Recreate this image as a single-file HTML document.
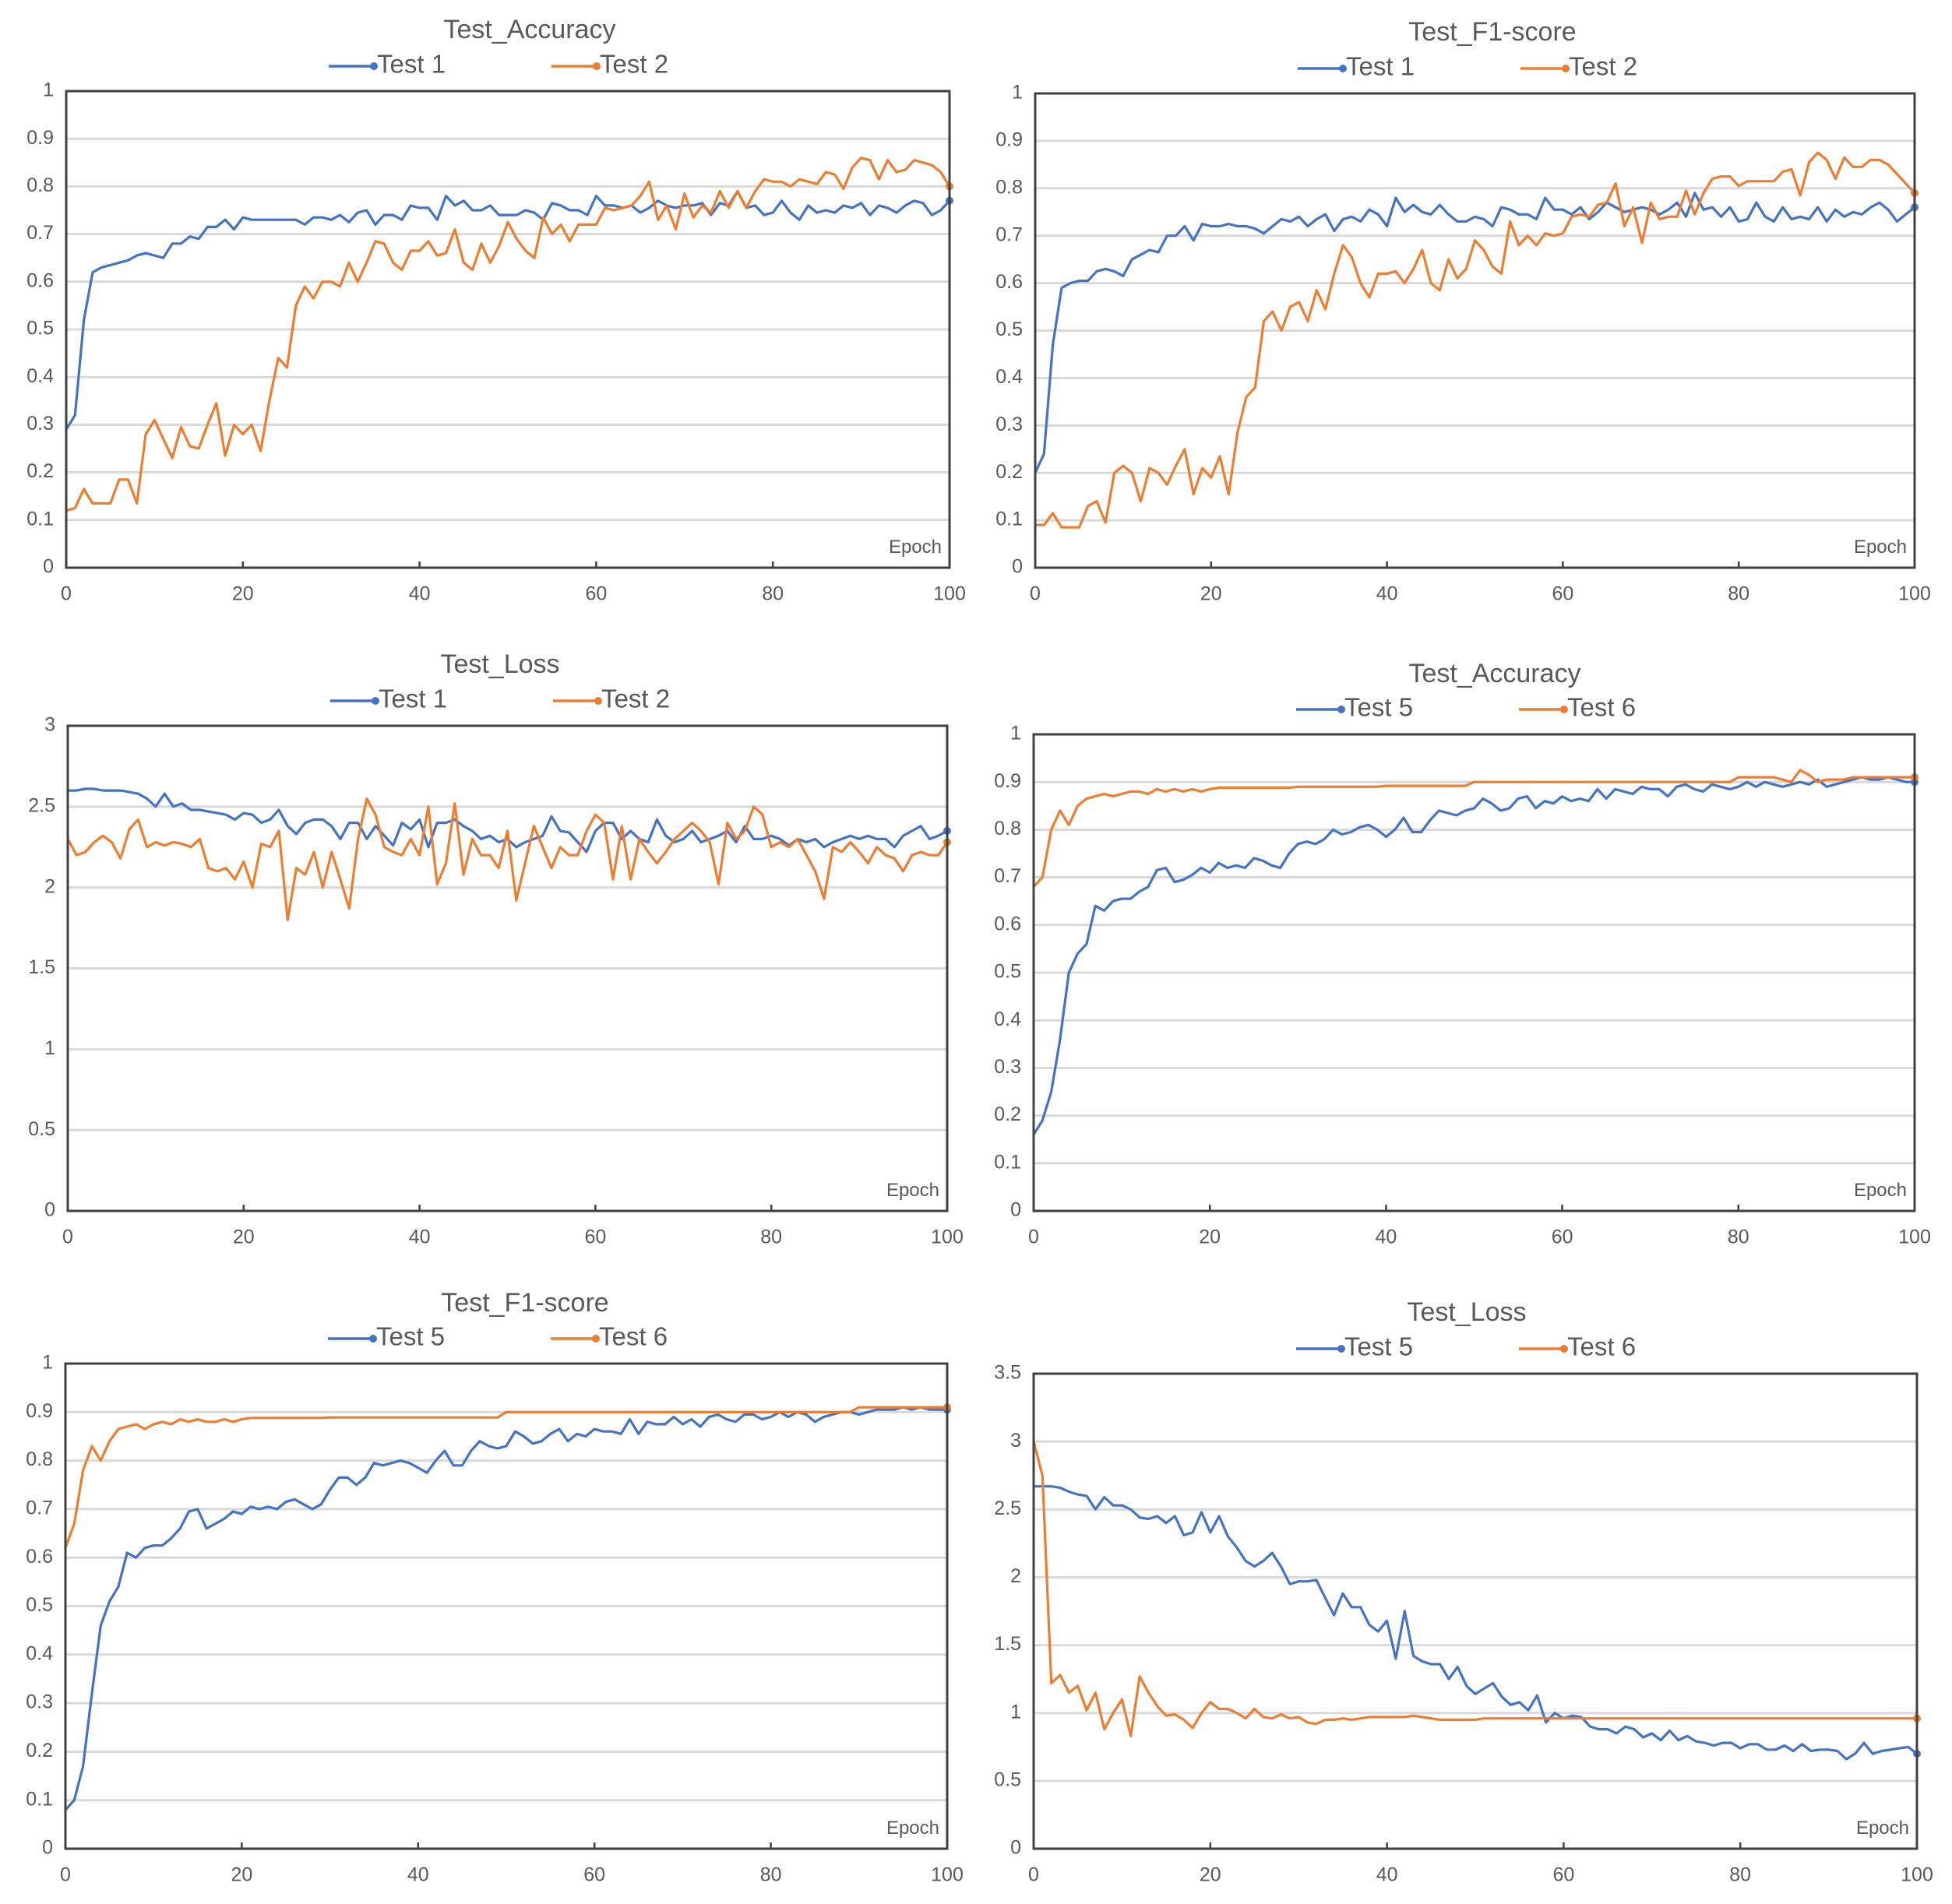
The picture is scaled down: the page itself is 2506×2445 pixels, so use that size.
<!DOCTYPE html>
<html><head><meta charset="utf-8">
<style>
html,body{margin:0;padding:0;background:#fff;}
svg{display:block;}
text{font-family:"Liberation Sans Narrow","Liberation Sans",sans-serif;}
</style></head>
<body>
<svg id="root" width="2506" height="2445" viewBox="0 0 2506 2445" xmlns="http://www.w3.org/2000/svg"></svg>
<script>
const epochs = [0,20,40,60,80,100];
const accTicks = [0,0.1,0.2,0.3,0.4,0.5,0.6,0.7,0.8,0.9,1];
const loss3Ticks = [0,0.5,1,1.5,2,2.5,3];
const loss35Ticks = [0,0.5,1,1.5,2,2.5,3,3.5];

const acc1 = [0.29,0.32,0.52,0.62,0.63,0.635,0.64,0.645,0.655,0.66,0.655,0.65,0.68,0.68,0.695,0.69,0.715,0.715,0.73,0.71,0.735,0.73,0.73,0.73,0.73,0.73,0.73,0.72,0.735,0.735,0.73,0.74,0.725,0.745,0.75,0.72,0.74,0.74,0.73,0.76,0.755,0.755,0.73,0.78,0.76,0.77,0.75,0.75,0.76,0.74,0.74,0.74,0.75,0.745,0.73,0.765,0.76,0.75,0.75,0.74,0.78,0.76,0.76,0.755,0.76,0.745,0.755,0.77,0.76,0.755,0.76,0.76,0.765,0.74,0.765,0.76,0.79,0.755,0.76,0.74,0.745,0.77,0.745,0.73,0.76,0.745,0.75,0.745,0.76,0.755,0.765,0.74,0.76,0.755,0.745,0.76,0.77,0.765,0.74,0.75,0.77];
const acc2 = [0.12,0.125,0.165,0.135,0.135,0.135,0.185,0.185,0.135,0.28,0.31,0.27,0.23,0.295,0.255,0.25,0.3,0.345,0.235,0.3,0.28,0.3,0.245,0.35,0.44,0.42,0.55,0.59,0.565,0.6,0.6,0.59,0.64,0.6,0.64,0.685,0.68,0.64,0.625,0.665,0.665,0.685,0.655,0.66,0.71,0.64,0.625,0.68,0.64,0.675,0.725,0.69,0.665,0.65,0.735,0.7,0.72,0.685,0.72,0.72,0.72,0.755,0.75,0.755,0.76,0.78,0.81,0.73,0.76,0.71,0.785,0.735,0.76,0.745,0.79,0.755,0.79,0.755,0.79,0.815,0.81,0.81,0.8,0.815,0.81,0.805,0.83,0.825,0.795,0.84,0.86,0.855,0.815,0.855,0.83,0.835,0.855,0.85,0.845,0.83,0.8];
const f1a = [0.2,0.24,0.47,0.59,0.6,0.605,0.605,0.625,0.63,0.625,0.615,0.65,0.66,0.67,0.665,0.7,0.7,0.72,0.69,0.725,0.72,0.72,0.725,0.72,0.72,0.715,0.705,0.72,0.735,0.73,0.74,0.72,0.735,0.745,0.71,0.735,0.74,0.73,0.755,0.745,0.72,0.78,0.75,0.765,0.75,0.745,0.765,0.745,0.73,0.73,0.74,0.735,0.72,0.76,0.755,0.745,0.745,0.735,0.78,0.755,0.755,0.745,0.76,0.735,0.75,0.77,0.76,0.75,0.755,0.76,0.755,0.745,0.755,0.77,0.74,0.79,0.755,0.76,0.74,0.76,0.73,0.735,0.77,0.74,0.73,0.76,0.735,0.74,0.735,0.76,0.73,0.755,0.74,0.75,0.745,0.76,0.77,0.755,0.73,0.745,0.76];
const f1b = [0.09,0.09,0.115,0.085,0.085,0.085,0.13,0.14,0.095,0.2,0.215,0.2,0.14,0.21,0.2,0.175,0.215,0.25,0.155,0.21,0.19,0.235,0.155,0.285,0.36,0.38,0.52,0.54,0.5,0.55,0.56,0.52,0.585,0.545,0.62,0.68,0.655,0.6,0.57,0.62,0.62,0.625,0.6,0.63,0.67,0.6,0.585,0.65,0.61,0.63,0.69,0.67,0.635,0.62,0.73,0.68,0.7,0.68,0.705,0.7,0.705,0.74,0.745,0.74,0.765,0.77,0.81,0.72,0.76,0.685,0.77,0.735,0.74,0.74,0.795,0.745,0.79,0.82,0.825,0.825,0.805,0.815,0.815,0.815,0.815,0.835,0.84,0.785,0.855,0.875,0.86,0.82,0.865,0.845,0.845,0.86,0.86,0.85,0.83,0.81,0.79];
const loss1 = [2.6,2.6,2.61,2.61,2.6,2.6,2.6,2.59,2.58,2.55,2.5,2.58,2.5,2.52,2.48,2.48,2.47,2.46,2.45,2.42,2.46,2.45,2.4,2.42,2.48,2.38,2.33,2.4,2.42,2.42,2.38,2.3,2.4,2.4,2.3,2.38,2.32,2.26,2.4,2.36,2.42,2.25,2.4,2.4,2.42,2.38,2.35,2.3,2.32,2.28,2.3,2.25,2.28,2.3,2.32,2.44,2.35,2.34,2.28,2.22,2.35,2.4,2.4,2.3,2.35,2.3,2.28,2.42,2.32,2.28,2.3,2.35,2.28,2.3,2.32,2.35,2.28,2.38,2.3,2.3,2.32,2.3,2.26,2.3,2.28,2.3,2.25,2.28,2.3,2.32,2.3,2.32,2.3,2.3,2.25,2.32,2.35,2.38,2.3,2.32,2.35];
const loss2 = [2.3,2.2,2.22,2.28,2.32,2.28,2.18,2.36,2.42,2.25,2.28,2.26,2.28,2.27,2.25,2.3,2.12,2.1,2.12,2.05,2.16,2.0,2.27,2.25,2.35,1.8,2.12,2.08,2.22,2.0,2.22,2.05,1.87,2.3,2.55,2.45,2.25,2.22,2.2,2.3,2.2,2.5,2.02,2.15,2.52,2.08,2.3,2.2,2.2,2.12,2.35,1.92,2.15,2.38,2.25,2.12,2.25,2.2,2.2,2.35,2.45,2.4,2.05,2.38,2.05,2.3,2.22,2.15,2.22,2.3,2.35,2.4,2.35,2.28,2.02,2.4,2.3,2.35,2.5,2.45,2.25,2.28,2.25,2.3,2.2,2.1,1.93,2.25,2.22,2.28,2.22,2.15,2.25,2.2,2.18,2.1,2.2,2.22,2.2,2.2,2.28];
const acc5 = [0.16,0.19,0.25,0.36,0.5,0.54,0.56,0.64,0.63,0.65,0.655,0.655,0.67,0.68,0.715,0.72,0.69,0.695,0.705,0.72,0.71,0.73,0.72,0.725,0.72,0.74,0.735,0.725,0.72,0.75,0.77,0.775,0.77,0.78,0.8,0.79,0.795,0.805,0.81,0.8,0.785,0.8,0.825,0.795,0.795,0.82,0.84,0.835,0.83,0.84,0.845,0.865,0.855,0.84,0.845,0.865,0.87,0.845,0.86,0.855,0.87,0.86,0.865,0.86,0.885,0.865,0.885,0.88,0.875,0.89,0.885,0.885,0.87,0.89,0.895,0.885,0.88,0.895,0.89,0.885,0.89,0.9,0.89,0.9,0.895,0.89,0.895,0.9,0.895,0.905,0.89,0.895,0.9,0.905,0.91,0.905,0.905,0.91,0.905,0.9,0.9];
const acc6 = [0.68,0.7,0.8,0.84,0.81,0.85,0.865,0.87,0.875,0.87,0.875,0.88,0.88,0.875,0.885,0.88,0.885,0.88,0.885,0.88,0.885,0.888,0.888,0.888,0.888,0.888,0.888,0.888,0.888,0.888,0.89,0.89,0.89,0.89,0.89,0.89,0.89,0.89,0.89,0.89,0.892,0.892,0.892,0.892,0.892,0.892,0.892,0.892,0.892,0.892,0.9,0.9,0.9,0.9,0.9,0.9,0.9,0.9,0.9,0.9,0.9,0.9,0.9,0.9,0.9,0.9,0.9,0.9,0.9,0.9,0.9,0.9,0.9,0.9,0.9,0.9,0.9,0.9,0.9,0.9,0.91,0.91,0.91,0.91,0.91,0.905,0.9,0.925,0.915,0.9,0.905,0.905,0.905,0.91,0.91,0.91,0.91,0.91,0.91,0.91,0.91];
const f15 = [0.08,0.1,0.17,0.32,0.46,0.51,0.54,0.61,0.6,0.62,0.625,0.625,0.64,0.66,0.695,0.7,0.66,0.67,0.68,0.695,0.69,0.705,0.7,0.705,0.7,0.715,0.72,0.71,0.7,0.71,0.74,0.765,0.765,0.75,0.765,0.795,0.79,0.795,0.8,0.795,0.785,0.775,0.8,0.82,0.79,0.79,0.82,0.84,0.83,0.825,0.83,0.86,0.85,0.835,0.84,0.855,0.865,0.84,0.855,0.85,0.865,0.86,0.86,0.855,0.885,0.855,0.88,0.875,0.875,0.89,0.875,0.885,0.87,0.89,0.895,0.885,0.88,0.895,0.895,0.885,0.89,0.9,0.89,0.9,0.895,0.88,0.89,0.895,0.9,0.9,0.895,0.9,0.905,0.905,0.905,0.91,0.905,0.91,0.905,0.905,0.905];
const f16 = [0.62,0.67,0.78,0.83,0.8,0.84,0.865,0.87,0.875,0.865,0.875,0.88,0.875,0.885,0.88,0.885,0.88,0.88,0.885,0.88,0.885,0.888,0.888,0.888,0.888,0.888,0.888,0.888,0.888,0.888,0.889,0.889,0.889,0.889,0.889,0.889,0.889,0.889,0.889,0.889,0.889,0.889,0.889,0.889,0.889,0.889,0.889,0.889,0.889,0.889,0.9,0.9,0.9,0.9,0.9,0.9,0.9,0.9,0.9,0.9,0.9,0.9,0.9,0.9,0.9,0.9,0.9,0.9,0.9,0.9,0.9,0.9,0.9,0.9,0.9,0.9,0.9,0.9,0.9,0.9,0.9,0.9,0.9,0.9,0.9,0.9,0.9,0.9,0.9,0.9,0.91,0.91,0.91,0.91,0.91,0.91,0.91,0.91,0.91,0.91,0.91];
const loss5 = [2.67,2.67,2.67,2.66,2.63,2.61,2.6,2.5,2.59,2.53,2.53,2.5,2.44,2.43,2.45,2.4,2.45,2.31,2.33,2.48,2.33,2.45,2.3,2.22,2.12,2.08,2.12,2.18,2.08,1.95,1.97,1.97,1.98,1.85,1.72,1.88,1.78,1.78,1.65,1.6,1.68,1.4,1.75,1.42,1.38,1.36,1.36,1.25,1.34,1.2,1.14,1.18,1.22,1.12,1.06,1.08,1.02,1.13,0.93,1.0,0.96,0.98,0.97,0.9,0.88,0.88,0.85,0.9,0.88,0.82,0.85,0.8,0.87,0.8,0.83,0.79,0.78,0.76,0.78,0.78,0.74,0.77,0.77,0.73,0.73,0.76,0.72,0.77,0.72,0.73,0.73,0.72,0.66,0.7,0.78,0.7,0.72,0.73,0.74,0.75,0.7];
const loss6 = [3.0,2.75,1.22,1.28,1.15,1.2,1.02,1.15,0.88,1.0,1.1,0.83,1.27,1.15,1.05,0.98,0.99,0.95,0.89,1.0,1.08,1.03,1.03,1.0,0.96,1.03,0.97,0.96,0.99,0.96,0.97,0.93,0.92,0.95,0.95,0.96,0.95,0.96,0.97,0.97,0.97,0.97,0.97,0.98,0.97,0.96,0.95,0.95,0.95,0.95,0.95,0.96,0.96,0.96,0.96,0.96,0.96,0.96,0.96,0.96,0.96,0.96,0.96,0.96,0.96,0.96,0.96,0.96,0.96,0.96,0.96,0.96,0.96,0.96,0.96,0.96,0.96,0.96,0.96,0.96,0.96,0.96,0.96,0.96,0.96,0.96,0.96,0.96,0.96,0.96,0.96,0.96,0.96,0.96,0.96,0.96,0.96,0.96,0.96,0.96,0.96];

const BLUE = '#4472C4', ORANGE = '#ED7D31';
const NS = 'http://www.w3.org/2000/svg';
const root = document.getElementById('root');
function mk(tag, attrs, parent) {
  const e = document.createElementNS(NS, tag);
  for (const k in attrs) e.setAttribute(k, attrs[k]);
  parent.appendChild(e);
  return e;
}
function chart(cfg) {
  const g = mk('g', {}, root);
  
  
  const L = cfg.box[0], R = cfg.box[1], T = cfg.box[2], B = cfg.box[3];
  const ymax = cfg.ticks[cfg.ticks.length - 1];
  const xs = v => L + (R - L) * v / 100;
  const ys = v => B - (B - T) * v / ymax;
  // grid
  cfg.ticks.forEach((t, i) => {
    if (t > 0 && t < ymax) {
      const gl = mk('line', {x1: L, x2: R, y1: ys(t), y2: ys(t), stroke: '#d9d9d9', 'stroke-width': 3}, g);
      
      
    }
    const tl = mk('text', {x: L - 16, y: ys(t), 'text-anchor': 'end', 'dominant-baseline': 'middle', 'font-size': 25, fill: '#595959'}, g);
    tl.textContent = String(t);
    
    
  });
  epochs.forEach(e => {
    const tl = mk('text', {x: xs(e), y: B + 35, 'text-anchor': 'middle', 'dominant-baseline': 'middle', 'font-size': 25, fill: '#595959'}, g);
    tl.textContent = String(e);
    
    
    const tk = mk('line', {x1: xs(e), x2: xs(e), y1: B, y2: B - 8, stroke: '#404040', 'stroke-width': 2.5}, g);
    
    
  });
  // series
  cfg.series.forEach((s, si) => {
    const d = s.data.map((v, i) => (i ? 'L' : 'M') + xs(i).toFixed(1) + ' ' + ys(v).toFixed(1)).join(' ');
    const p = mk('path', {d: d, fill: 'none', stroke: s.color, 'stroke-width': 3.2, 'stroke-linejoin': 'round'}, g);
    
    
    const last = s.data.length - 1;
    const c = mk('circle', {cx: xs(last), cy: ys(s.data[last]), r: 5, fill: s.color}, g);
    
    
    // legend
    const lx = L + (si ? 623 : 337), ly = cfg.legendY;
    const ll = mk('line', {x1: lx, x2: lx + 60, y1: ly, y2: ly, stroke: s.color, 'stroke-width': 3.5}, g);
    
    
    const lc = mk('circle', {cx: lx + 58, cy: ly, r: 5, fill: s.color}, g);
    
    
    const lt = mk('text', {x: lx + 62, y: ly, 'dominant-baseline': 'middle', 'font-size': 33, fill: '#595959'}, g);
    lt.textContent = s.label;
    
    
  });
  const fr = mk('rect', {x: L, y: T, width: R - L, height: B - T, fill: 'none', stroke: '#404040', 'stroke-width': 3}, g);
  
  
  const ep = mk('text', {x: R - 10, y: B - 19, 'text-anchor': 'end', 'font-size': 24, fill: '#595959'}, g);
  ep.textContent = 'Epoch';
  
  
  const ti = mk('text', {x: L + cfg.titleDx, y: cfg.titleY, 'text-anchor': 'middle', 'dominant-baseline': 'middle', 'font-size': 34, fill: '#595959'}, g);
  ti.textContent = cfg.title;
  
  
}
chart({name:'chart-test-accuracy-1', title:'Test_Accuracy', box:[85,1219,117,729], ticks:accTicks, titleY:40, legendY:85, titleDx:595,
  series:[{label:'Test 1', color:BLUE, data:acc1},{label:'Test 2', color:ORANGE, data:acc2}]});
chart({name:'chart-test-f1-1', title:'Test_F1-score', box:[1329,2458,120,729], ticks:accTicks, titleY:43, legendY:88, titleDx:587,
  series:[{label:'Test 1', color:BLUE, data:f1a},{label:'Test 2', color:ORANGE, data:f1b}]});
chart({name:'chart-test-loss-1', title:'Test_Loss', box:[87,1216,932,1555], ticks:loss3Ticks, titleY:855, legendY:900, titleDx:555,
  series:[{label:'Test 1', color:BLUE, data:loss1},{label:'Test 2', color:ORANGE, data:loss2}]});
chart({name:'chart-test-accuracy-2', title:'Test_Accuracy', box:[1327,2458,943,1555], ticks:accTicks, titleY:867, legendY:911, titleDx:592,
  series:[{label:'Test 5', color:BLUE, data:acc5},{label:'Test 6', color:ORANGE, data:acc6}]});
chart({name:'chart-test-f1-2', title:'Test_F1-score', box:[84,1216,1751,2374], ticks:accTicks, titleY:1675, legendY:1719, titleDx:590,
  series:[{label:'Test 5', color:BLUE, data:f15},{label:'Test 6', color:ORANGE, data:f16}]});
chart({name:'chart-test-loss-2', title:'Test_Loss', box:[1327,2461,1764,2374], ticks:loss35Ticks, titleY:1687, legendY:1732, titleDx:556,
  series:[{label:'Test 5', color:BLUE, data:loss5},{label:'Test 6', color:ORANGE, data:loss6}]});
</script>
</body></html>
